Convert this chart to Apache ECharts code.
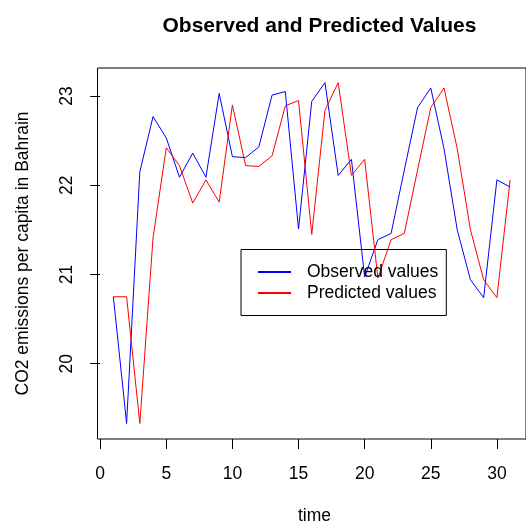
<!DOCTYPE html>
<html>
<head>
<meta charset="utf-8">
<script src="https://cdn.jsdelivr.net/npm/echarts@6/dist/echarts.min.js"></script>
<style>
html,body{margin:0;padding:0;background:#fff;}
#chart{width:526px;height:527px;}
</style>
</head>
<body>
<div id="chart"></div>
<script>
// Data
var time = [1,2,3,4,5,6,7,8,9,10,11,12,13,14,15,16,17,18,19,20,21,22,23,24,25,26,27,28,29,30,31];
var observed = [20.75,19.33,22.15,22.77,22.53,22.09,22.36,22.09,23.03,22.32,22.31,22.43,23.01,23.05,21.51,22.94,23.15,22.11,22.29,20.97,21.39,21.46,22.17,22.87,23.09,22.41,21.50,20.94,20.74,22.06,21.98];
var predicted = [20.75,20.75,19.33,21.41,22.42,22.22,21.80,22.06,21.81,22.90,22.22,22.21,22.33,22.89,22.95,21.45,22.84,23.15,22.11,22.29,20.96,21.39,21.46,22.17,22.87,23.09,22.41,21.50,20.94,20.74,22.06];
var xTicks = [0,5,10,15,20,25,30];
var yTicks = [20,21,22,23];
var seriesNames = ['Observed values','Predicted values'];
var titleText = 'Observed and Predicted Values';
var xName = 'time';
var yName = 'CO2 emissions per capita in Bahrain';

var FONT = 'Liberation Sans, Arial, Helvetica, sans-serif';
function pairs(xs, ys){ return xs.map(function(x,i){ return [x, ys[i]]; }); }

var chart = echarts.init(document.getElementById('chart'), null, {renderer:'canvas'});
chart.setOption({
  animation: false,
  backgroundColor: '#ffffff',
  title: {
    text: titleText,
    left: 314.5,
    top: 10.5,
    textAlign: 'center',
    textStyle: {fontFamily: FONT, fontWeight: 'bold', fontSize: 21, color: '#000'}
  },
  grid: {
    left: 97.5, top: 68, width: 434, height: 371,
    show: true, borderColor: '#000', borderWidth: 1, backgroundColor: 'transparent'
  },
  legend: {
    data: seriesNames,
    orient: 'vertical',
    left: 241, top: 249.5,
    padding: [13.5, 8, 13.5, 16],
    itemWidth: 33, itemHeight: 14, itemGap: 3,
    borderColor: '#000', borderWidth: 1,
    itemStyle: {color: 'transparent', borderWidth: 0, opacity: 0},
    textStyle: {fontFamily: FONT, fontSize: 17.5, color: '#000', padding: [0,0,0,11]}
  },
  xAxis: {
    type: 'value', min: -0.2, max: 32.2,
    axisLine: {show: false},
    splitLine: {show: false},
    axisTick: {show: true, inside: false, length: 10, customValues: xTicks, lineStyle: {color: '#000', width: 1}},
    axisLabel: {margin: 26, customValues: xTicks, fontFamily: FONT, fontSize: 17.5, color: '#000'}
  },
  yAxis: {
    type: 'value', min: 19.156, max: 23.314,
    axisLine: {show: false},
    splitLine: {show: false},
    axisTick: {show: true, inside: false, length: 10, customValues: yTicks, lineStyle: {color: '#000', width: 1}},
    axisLabel: {margin: 21, rotate: 90, customValues: yTicks, fontFamily: FONT, fontSize: 17.5, color: '#000'}
  },
  graphic: [
    {type: 'text', x: 314.5, y: 516.5, style: {text: xName, font: '17.5px ' + FONT, fill: '#000', textAlign: 'center', textVerticalAlign: 'middle'}},
    {type: 'text', x: 23, y: 253.5, rotation: Math.PI/2, style: {text: yName, font: '17.5px ' + FONT, fill: '#000', textAlign: 'center', textVerticalAlign: 'middle'}}
  ],
  series: [
    {name: seriesNames[0], type: 'line', data: pairs(time, observed), symbol: 'none', showSymbol: false,
     lineStyle: {color: '#0000ff', width: 1}, itemStyle: {color: '#0000ff'}},
    {name: seriesNames[1], type: 'line', data: pairs(time, predicted), symbol: 'none', showSymbol: false,
     lineStyle: {color: '#ff0000', width: 1}, itemStyle: {color: '#ff0000'}}
  ]
});
</script>
</body>
</html>
